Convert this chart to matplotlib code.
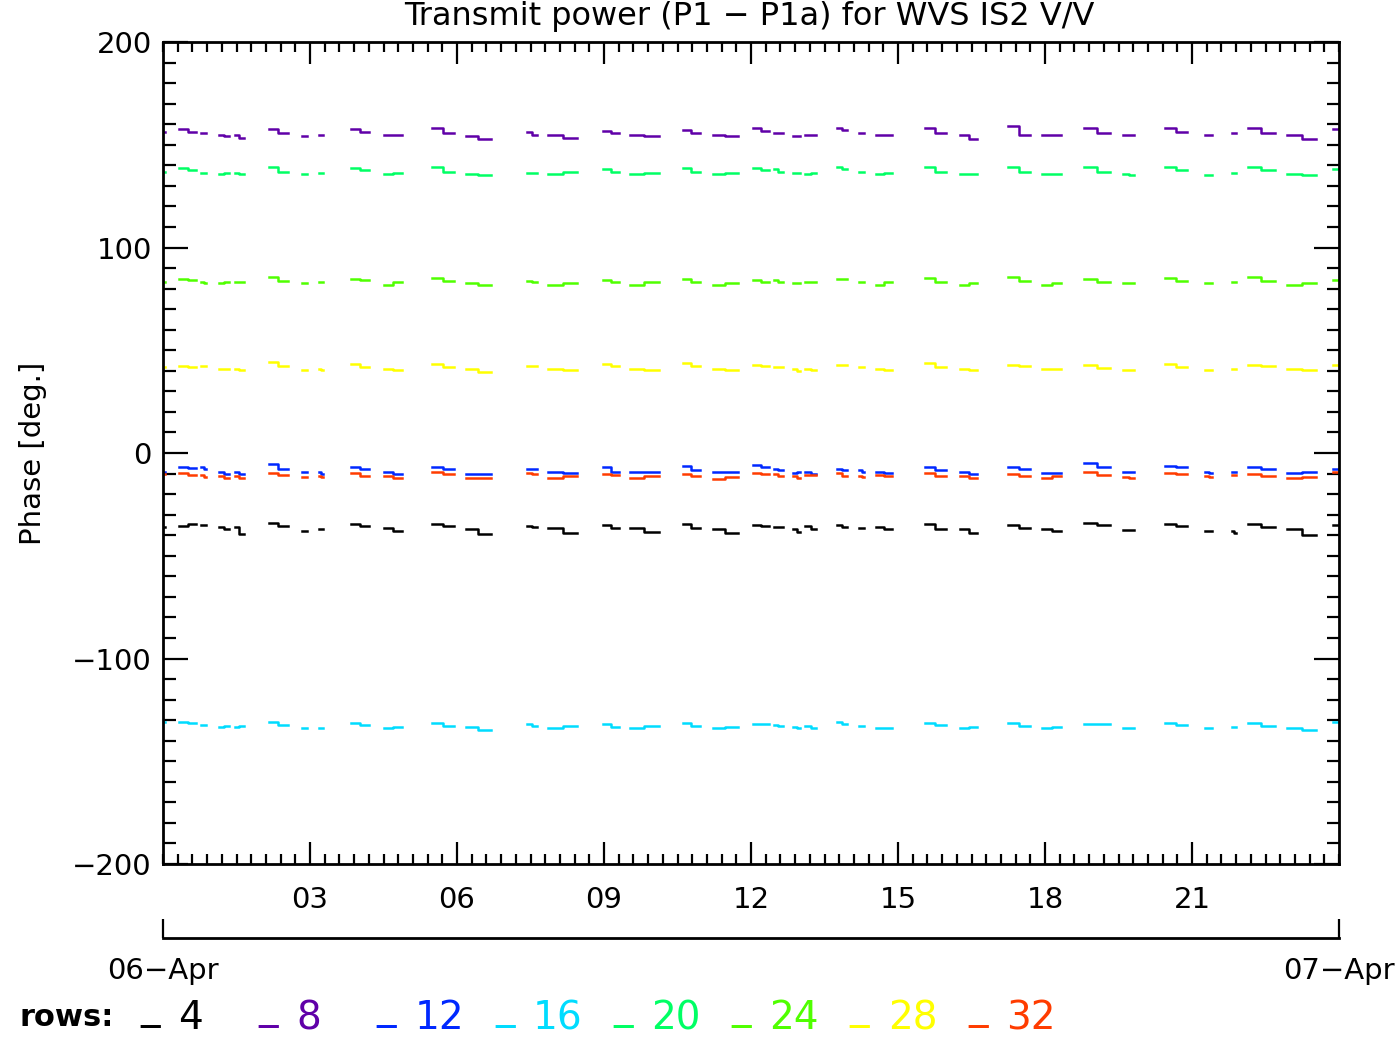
import numpy as np
import matplotlib
matplotlib.use("Agg")
import matplotlib.pyplot as plt
from matplotlib.ticker import MultipleLocator

plt.rcParams['font.family'] = ['DejaVu Sans Condensed', 'Liberation Sans Narrow', 'DejaVu Sans']

# Zeitabschnitte (Stunden ab 06-Apr 00:00) mit Daten
segments = [(0.0, 0.05), (0.33, 0.67), (0.78, 0.88), (1.14, 1.35), (1.47, 1.65),
            (2.16, 2.55), (2.84, 2.94), (3.18, 3.27), (3.84, 4.20), (4.51, 4.88),
            (5.49, 5.94), (6.18, 6.69), (7.43, 7.63), (7.86, 8.45), (8.98, 9.31),
            (9.53, 10.12), (10.61, 10.96), (11.22, 11.73), (12.04, 12.37), (12.47, 12.65),
            (12.86, 13.0), (13.1, 13.33), (13.76, 13.96), (14.2, 14.31), (14.55, 14.88),
            (15.55, 15.98), (16.27, 16.61), (17.24, 17.69), (17.94, 18.33), (18.8, 19.33),
            (19.59, 19.82), (20.45, 20.9), (21.27, 21.41), (21.82, 21.9), (22.14, 22.69),
            (22.94, 23.53), (23.88, 24.0)]

# Phase pro Abschnitt (Anfang, Ende)
row4 = [(-36, -36), (-35.5, -34.5), (-35, -35), (-36, -37), (-36, -39.5), (-34, -35.5), (-38, -38),
        (-37, -37), (-34.5, -35.5), (-36.5, -38), (-34.5, -35.5), (-37, -39.5), (-35.5, -36),
        (-36.5, -39), (-35, -36.5), (-36.5, -38.5), (-34.5, -36.5), (-37, -39), (-35, -35.5),
        (-36, -36), (-37, -38.5), (-35.5, -37), (-35, -36), (-36.5, -36.5), (-36, -37),
        (-34.5, -37), (-37, -39), (-35, -36.5), (-37, -38), (-34, -35), (-37.5, -37.5),
        (-34.5, -35.5), (-38, -38), (-38, -39), (-34.5, -36), (-37, -40), (-35, -35)]
row8 = [(156, 156), (157.5, 156), (155.5, 155.5), (155, 154.5), (155, 153.5), (157.5, 155.5),
        (154.5, 154.5), (155, 155), (157.5, 156), (155, 155), (158, 155.5), (154.5, 153),
        (156, 155), (155, 153.5), (156.5, 155.5), (155, 154.5), (157, 155.5), (155, 154.5),
        (158, 156.5), (155.5, 155.5), (154.5, 154.5), (155, 155), (158, 157), (155.5, 155.5),
        (155, 155), (158, 155.5), (155, 153), (159, 155), (155, 155), (158, 155.5), (155, 155),
        (158, 156), (155, 155), (155.5, 155.5), (158, 155.5), (155, 153), (157.5, 157.5)]
row12 = [(-9, -9), (-7, -7.5), (-7, -8), (-9, -10), (-9, -10), (-5.5, -8), (-9, -9), (-9, -10),
         (-7, -8), (-9, -10), (-7, -8), (-10, -10), (-8, -8), (-9, -9.5), (-7, -9), (-9, -9),
         (-6.5, -8.5), (-9, -9), (-6, -7), (-8, -8.5), (-9.5, -9), (-9, -10), (-8, -8.5),
         (-8.5, -9), (-9, -9.5), (-7, -8.5), (-9, -10), (-7, -8), (-9.5, -9.5), (-5, -7),
         (-9, -9), (-6.5, -7), (-9, -9.5), (-9, -9), (-7, -8), (-9.5, -9), (-8, -8)]
row16 = [(-131, -131), (-131, -131.5), (-132.5, -132.5), (-133.5, -133), (-133.5, -133),
         (-131, -132.5), (-134, -134), (-134, -134), (-131.5, -132.5), (-134, -133.5),
         (-131.5, -133), (-133.5, -135), (-132, -133), (-134, -133), (-132, -133.5),
         (-134, -133), (-131.5, -133), (-134, -133.5), (-132, -132), (-132.5, -133),
         (-133.5, -134), (-133, -134), (-131, -132), (-133, -133), (-134, -134),
         (-131.5, -132.5), (-134, -133.5), (-131.5, -133), (-134, -133.5), (-132, -132),
         (-134, -134), (-131.5, -132.5), (-134, -134), (-133.5, -133.5), (-131.5, -133),
         (-134, -135), (-131, -131)]
row20 = [(137, 137), (138.5, 137.5), (136.5, 136.5), (136, 136.5), (136.5, 136), (139, 137),
         (136, 136), (136.5, 136.5), (138.5, 137.5), (136, 136.5), (139, 137), (136, 135.5),
         (136.5, 136.5), (136, 137), (138, 137), (136, 136.5), (138.5, 137), (136, 136.5),
         (138.5, 137.5), (138, 137), (136.5, 136.5), (136, 136.5), (139, 138), (137, 137),
         (136, 136.5), (139, 137), (136, 136), (139, 137), (136, 136), (139, 137),
         (136, 135.5), (139, 137.5), (135.5, 135.5), (136.5, 136.5), (139, 137.5),
         (136, 135.5), (138, 138)]
row24 = [(83, 83), (84.5, 84), (83, 82.5), (82.5, 83), (83, 83), (85.5, 83.5), (82.5, 82.5),
         (83, 83), (84.5, 84), (82, 83), (85, 83.5), (82.5, 82), (83.5, 83), (82, 82.5),
         (84, 83), (82, 83), (84.5, 83), (82, 82.5), (84, 83), (84, 83), (82.5, 82.5), (83, 83),
         (84.5, 84.5), (83, 83), (82, 83), (85, 83), (82, 82.5), (85.5, 83.5), (82, 82.5),
         (84.5, 83), (82.5, 82.5), (85, 83.5), (82.5, 82.5), (83, 83), (85.5, 83.5),
         (82, 82.5), (84, 84)]
row28 = [(42, 42), (42.5, 42), (42.5, 42.5), (41, 41), (41, 40.5), (44.5, 42.5), (40.5, 40.5),
         (41, 40.5), (43.5, 42), (41, 40.5), (43.5, 42), (41, 39.5), (42.5, 42.5), (41, 40.5),
         (43.5, 42.5), (41, 40.5), (44, 42.5), (41, 40.5), (43, 42.5), (42, 42), (41, 40),
         (41, 40.5), (43, 43), (42, 42), (41, 40.5), (44, 42), (41, 40.5), (43, 42.5),
         (41, 41), (43, 41.5), (40.5, 40.5), (43.5, 42), (40.5, 40.5), (41, 41), (43, 42.5),
         (41, 40.5), (43, 43)]
row32 = [(-10, -10), (-9.5, -10.5), (-10.5, -11.5), (-11, -12), (-11, -12), (-9.5, -10.5),
         (-11.5, -11.5), (-11, -11.5), (-9.5, -11), (-11, -12), (-9, -10), (-12, -12),
         (-9.5, -10), (-12, -11), (-10, -10.5), (-12, -11), (-10, -11), (-12.5, -11.5),
         (-9.5, -10), (-10, -11), (-11, -12), (-10.5, -10.5), (-9.5, -11), (-11, -11.5),
         (-10.5, -11), (-9.5, -11), (-11, -12), (-10, -11), (-12, -11), (-9, -10.5),
         (-11.5, -12), (-9.5, -10), (-11, -11.5), (-10.5, -10.5), (-10, -11), (-12, -11.5),
         (-9, -9)]

row_names = ["4", "8", "12", "16", "20", "24", "28", "32"]
row_data = [row4, row8, row12, row16, row20, row24, row28, row32]
row_colors = ["#000000", "#6000a8", "#0028ff", "#00dcff", "#00ff64", "#50ff00", "#ffff00", "#ff3c00"]


def build_series(values):
    xs, ys = [], []
    for (t0, t1), (v0, v1) in zip(segments, values):
        xs += [t0, (t0 + t1) / 2, t1, np.nan]
        ys += [v0, v1, v1, np.nan]
    return np.array(xs), np.array(ys)


fig = plt.figure(figsize=(13.98, 10.46), dpi=100)
ax = fig.add_axes([0.1166, 0.174, 0.8412, 0.7858])

for vals, col in zip(row_data, row_colors):
    x, y = build_series(vals)
    ax.plot(x, y, color=col, lw=1.8, drawstyle="steps-post")

ax.set_xlim(0, 24)
ax.set_ylim(-200, 200)
ax.xaxis.set_minor_locator(MultipleLocator(0.3))
ax.yaxis.set_major_locator(MultipleLocator(100))
ax.yaxis.set_minor_locator(MultipleLocator(10))
ax.set_xticks([3, 6, 9, 12, 15, 18, 21])
ax.set_xticklabels(["03", "06", "09", "12", "15", "18", "21"])
ax.tick_params(which="both", direction="in", top=True, right=True, width=1.6, labelsize=21)
ax.tick_params(which="major", axis="y", length=18)
ax.tick_params(which="minor", axis="y", length=9)
ax.tick_params(which="major", axis="x", length=16, pad=16)
ax.tick_params(which="minor", axis="x", length=7)
ax.tick_params(axis="y", pad=8)
for sp in ax.spines.values():
    sp.set_linewidth(2)
ax.set_ylabel("Phase [deg.]", fontsize=21, labelpad=18)

# Datumsachse unten
ax2 = fig.add_axes([0.1166, 1 - 938 / 1046, 0.8412, 0.0001])
ax2.set_xlim(0, 24)
ax2.set_yticks([])
for s in ["top", "left", "right"]:
    ax2.spines[s].set_visible(False)
ax2.spines["bottom"].set_linewidth(2)
ax2.set_xticks([0, 24])
ax2.set_xticklabels(["06\u2212Apr", "07\u2212Apr"])
ax2.tick_params(direction="in", length=14, width=1.6, pad=14, labelsize=21)

fig.text(0.536, 0.999, "Transmit power (P1 \u2212 P1a) for WVS IS2 V/V", ha="center", va="top", fontsize=23)

# Legende
fig.text(20 / 1398, 1 - 1018 / 1046, "rows:", ha="left", va="center", fontsize=22, fontweight="bold")
for i, (name, col) in enumerate(zip(row_names, row_colors)):
    x0 = 140 + i * 118.3
    fig.text(x0 / 1398, 1 - 1019 / 1046, "_", color=col, ha="left", va="baseline", fontsize=28)
    fig.text((x0 + 38) / 1398, 1 - 1018 / 1046, name, color=col, ha="left", va="center", fontsize=28)

plt.savefig("out.png", dpi=100)
